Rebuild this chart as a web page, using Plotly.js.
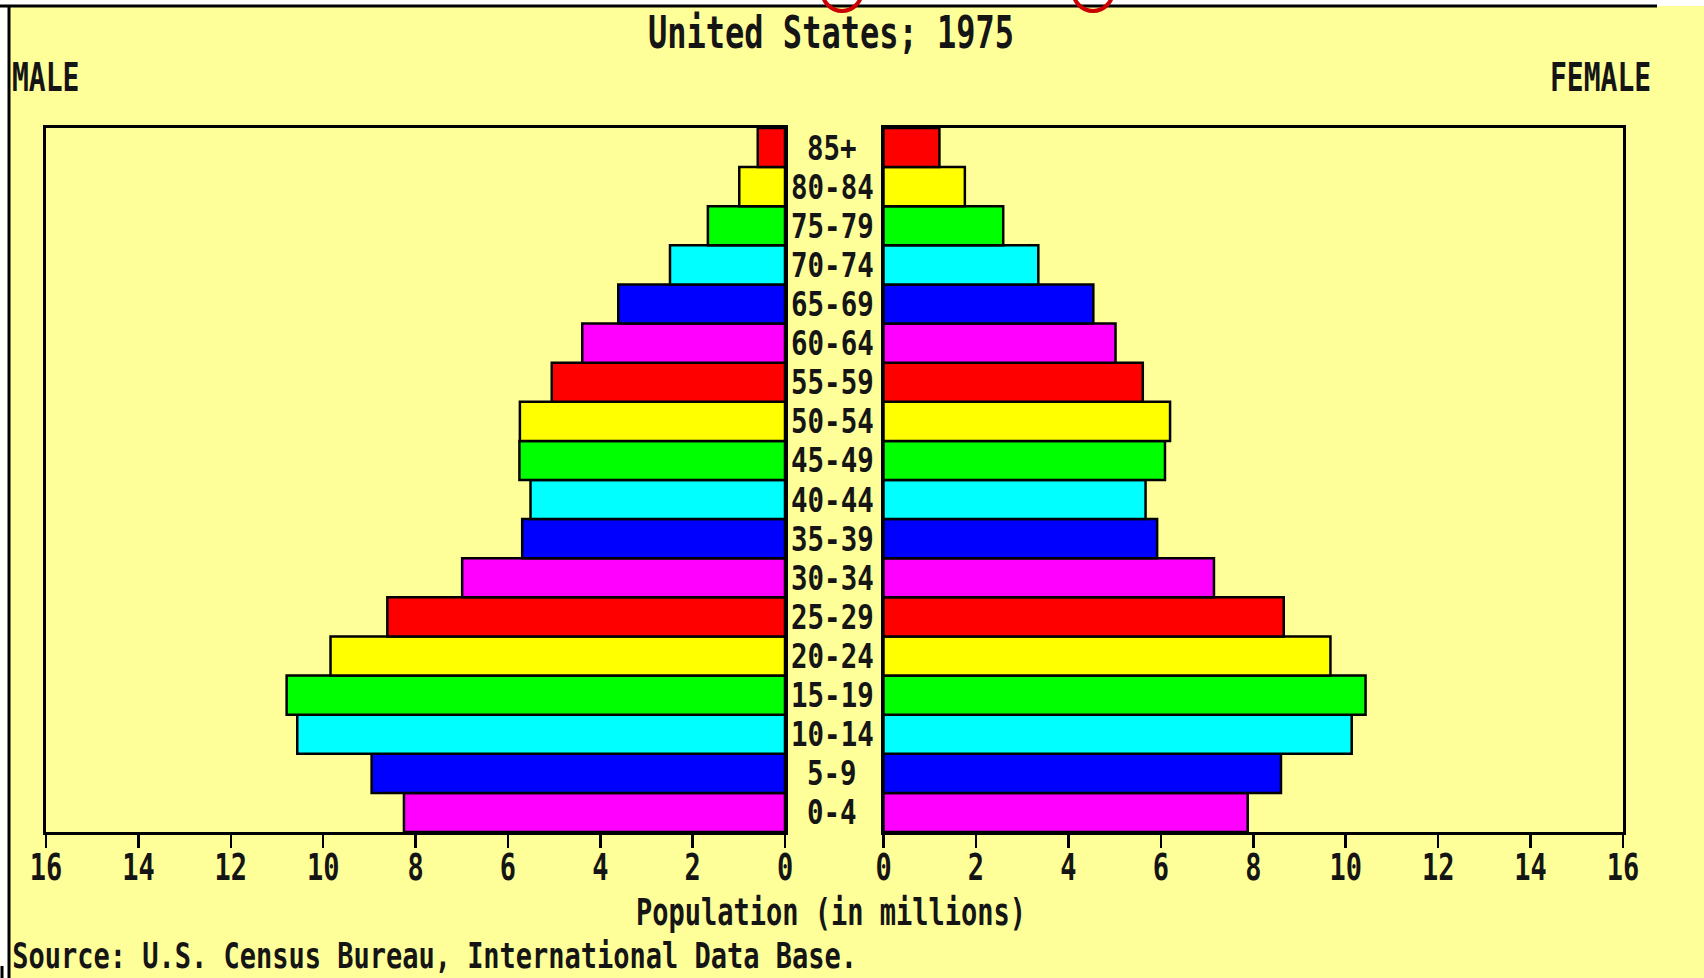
<!DOCTYPE html>
<html>
<head>
<meta charset="utf-8">
<script src="https://cdn.plot.ly/plotly-3.0.1.min.js"></script>
<style>
  html, body { margin: 0; padding: 0; background: #ffffff; }
  #chart { width: 1704px; height: 978px; }
</style>
</head>
<body>
<div id="chart"></div>
<script>
// ---- Data (population in millions), bottom to top ----
const ageGroups = ['0-4','5-9','10-14','15-19','20-24','25-29','30-34','35-39','40-44',
                   '45-49','50-54','55-59','60-64','65-69','70-74','75-79','80-84','85+'];
const maleValues = [8.25, 8.95, 10.56, 10.79, 9.84, 8.61, 6.99, 5.69, 5.51,
                    5.75, 5.74, 5.05, 4.39, 3.61, 2.49, 1.67, 0.99, 0.59];
const femaleValues = [7.88, 8.60, 10.13, 10.43, 9.67, 8.66, 7.15, 5.92, 5.67,
                      6.09, 6.20, 5.61, 5.02, 4.54, 3.35, 2.59, 1.76, 1.21];
const barColors = ['#FF00FF','#0000FF','#00FFFF','#00FF00','#FFFF00','#FF0000',
                   '#FF00FF','#0000FF','#00FFFF','#00FF00','#FFFF00','#FF0000',
                   '#FF00FF','#0000FF','#00FFFF','#00FF00','#FFFF00','#FF0000'];
const tickValues = [0, 2, 4, 6, 8, 10, 12, 14, 16];
const tickLabels = ['0','2','4','6','8','10','12','14','16'];

const W = 1704, H = 978;
const px = v => v / W;
const py = v => 1 - v / H;

const FONT = 'DejaVu Sans Mono, Liberation Mono, monospace';
const INK = '#151515';
const BG = '#FFFF99';
const SOURCE_TEXT = 'Source: U.S. Census Bureau, International Data Base.';

const traces = [
  {
    type: 'bar', orientation: 'h', x: maleValues, y: ageGroups,
    xaxis: 'x', yaxis: 'y',
    marker: { color: barColors, line: { color: '#000000', width: 2.5 } },
    hoverinfo: 'x+y', showlegend: false
  },
  {
    type: 'bar', orientation: 'h', x: femaleValues, y: ageGroups,
    xaxis: 'x2', yaxis: 'y2',
    marker: { color: barColors, line: { color: '#000000', width: 2.5 } },
    hoverinfo: 'x+y', showlegend: false
  }
];

const xCommon = {
  tickmode: 'array', tickvals: tickValues, ticktext: tickLabels,
  ticks: 'outside', ticklen: 13, tickwidth: 2.5, tickcolor: '#000',
  showline: true, mirror: true, linecolor: '#000', linewidth: 3,
  showgrid: false, zeroline: false, fixedrange: true,
  tickfont: { family: FONT, size: 27, color: INK, weight: 'bold' },
  ticklabelstandoff: -4
};
const yCommon = {
  type: 'category', categoryorder: 'array', categoryarray: ageGroups,
  range: [-0.5, 17.5],
  showticklabels: false, ticks: '',
  showline: true, mirror: true, linecolor: '#000', linewidth: 3,
  showgrid: false, zeroline: false, fixedrange: true,
  domain: [py(832), py(128)]
};

const annotations = [
  { text: 'United States; 1975', x: px(831), y: py(33), xref: 'paper', yref: 'paper',
    showarrow: false, xanchor: 'center', yanchor: 'middle',
    font: { family: FONT, size: 32, color: INK, weight: 'bold' } },
  { text: 'MALE', x: px(10), y: py(78), xref: 'paper', yref: 'paper',
    showarrow: false, xanchor: 'left', yanchor: 'middle',
    font: { family: FONT, size: 28, color: INK, weight: 'bold' } },
  { text: 'FEMALE', x: px(1653), y: py(78), xref: 'paper', yref: 'paper',
    showarrow: false, xanchor: 'right', yanchor: 'middle',
    font: { family: FONT, size: 28, color: INK, weight: 'bold' } },
  { text: 'Population (in millions)', x: px(831), y: py(911), xref: 'paper', yref: 'paper',
    showarrow: false, xanchor: 'center', yanchor: 'middle',
    font: { family: FONT, size: 27, color: INK, weight: 'bold' } },
  { text: SOURCE_TEXT, x: px(10), y: py(955),
    xref: 'paper', yref: 'paper', showarrow: false, xanchor: 'left', yanchor: 'middle',
    font: { family: FONT, size: 27, color: INK, weight: 'bold' } }
];
ageGroups.forEach(g => {
  annotations.push({
    text: g, x: px(832), y: g, xref: 'paper', yref: 'y',
    showarrow: false, xanchor: 'center', yanchor: 'middle',
    font: { family: FONT, size: 27.5, color: INK, weight: 'bold' }
  });
});

const shapes = [
  // white page strips outside the yellow frame
  { type: 'rect', xref: 'paper', yref: 'paper', x0: 0, x1: 1, y0: py(6), y1: 1,
    fillcolor: '#ffffff', line: { width: 0 }, layer: 'below' },
  { type: 'rect', xref: 'paper', yref: 'paper', x0: 0, x1: px(8), y0: 0, y1: 1,
    fillcolor: '#ffffff', line: { width: 0 }, layer: 'below' },
  // frame lines
  { type: 'line', xref: 'paper', yref: 'paper', x0: 0, x1: px(1657), y0: py(6), y1: py(6),
    line: { color: '#000', width: 3 } },
  { type: 'line', xref: 'paper', yref: 'paper', x0: px(9), x1: px(9), y0: py(6), y1: 0,
    line: { color: '#000', width: 3 } },
  { type: 'line', xref: 'paper', yref: 'paper', x0: px(2), x1: px(2), y0: py(966), y1: 0,
    line: { color: '#000', width: 3 } },
  // red arcs peeking at the top edge
  { type: 'circle', xref: 'paper', yref: 'paper', x0: px(822), x1: px(862), y0: py(11), y1: py(-30),
    line: { color: '#CC0000', width: 4 } },
  { type: 'circle', xref: 'paper', yref: 'paper', x0: px(1073), x1: px(1113), y0: py(11), y1: py(-30),
    line: { color: '#CC0000', width: 4 } }
];

const layout = {
  width: W, height: H,
  margin: { l: 0, r: 0, t: 0, b: 0, pad: 0 },
  paper_bgcolor: BG, plot_bgcolor: BG,
  bargap: 0,
  showlegend: false,
  xaxis: Object.assign({}, xCommon, { domain: [px(46), px(785)], range: [16, 0], anchor: 'y' }),
  xaxis2: Object.assign({}, xCommon, { domain: [px(883.5), px(1623)], range: [0, 16], anchor: 'y2' }),
  yaxis: Object.assign({}, yCommon, { anchor: 'x' }),
  yaxis2: Object.assign({}, yCommon, { anchor: 'x2' }),
  annotations: annotations,
  shapes: shapes
};

const ageSet = new Set(ageGroups);
Plotly.newPlot('chart', traces, layout, { displayModeBar: false, staticPlot: true }).then(gd => {
  // Stretch the lettering vertically (about each text's own centre) to mimic the tall bitmap font.
  gd.querySelectorAll('svg text').forEach(t => {
    const s = t.textContent;
    if (!s) return;
    let k = 1.4;
    if (ageSet.has(s)) k = 1.2;
    else if (s === SOURCE_TEXT) k = 1.3;
    let bb;
    try { bb = t.getBBox(); } catch (e) { return; }
    if (!bb || !bb.height) return;
    const cy = bb.y + bb.height / 2;
    const existing = t.getAttribute('transform') || '';
    t.setAttribute('transform',
      (existing + ' translate(0,' + cy + ') scale(1,' + k + ') translate(0,' + (-cy) + ')').trim());
  });
});
</script>
</body>
</html>
